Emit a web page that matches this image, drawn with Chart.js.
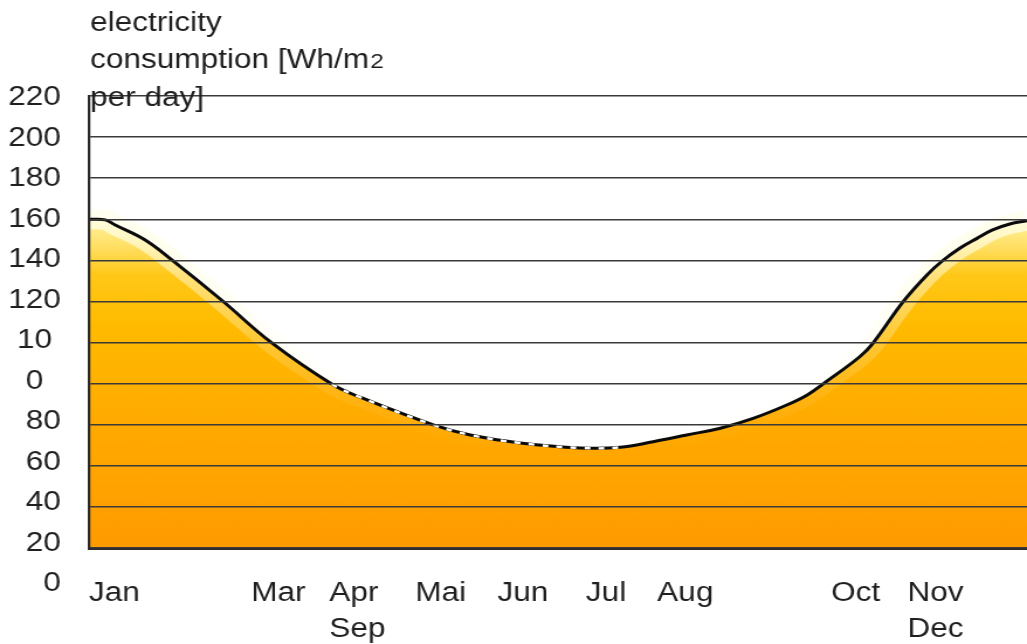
<!DOCTYPE html>
<html>
<head>
<meta charset="utf-8">
<script src="https://cdn.jsdelivr.net/npm/chart.js@4.4.1/dist/chart.umd.min.js"></script>
<style>
  html, body { margin: 0; padding: 0; background: #fff; overflow: hidden; }
  #chart { display: block; }
</style>
</head>
<body>
<canvas id="chart"></canvas>
<script>
// month axis (label start positions, in month units from the y axis)
const monthTicks = [0, 1.98, 2.93, 3.98, 4.98, 6.06, 6.93, 9.05, 9.98];
const monthLabels = ['Jan', 'Mar', ['Apr', 'Sep'], 'Mai', 'Jun', 'Jul', 'Aug', 'Oct', ['Nov', 'Dec']];

// consumption curve
const curveX = [0, 0.2, 0.32, 0.68, 1.01, 1.63, 2.23, 2.96, 3.3, 4.2, 4.65, 5.26, 5.99, 6.48, 6.88, 7.29, 7.7, 8.1, 8.51, 8.76, 8.95, 9.4, 9.56, 9.93, 10.22, 10.41, 10.62, 10.83, 11.02, 11.23, 11.44];
const curveY = [160, 159.7, 157.2, 150.0, 140.2, 120.2, 99.8, 79.8, 73.5, 59.9, 55.0, 51.1, 48.7, 49.0, 51.7, 55.0, 58.3, 63.1, 69.6, 74.5, 79.8, 93.1, 99.6, 119.9, 132.9, 139.8, 145.9, 150.7, 154.8, 157.7, 159.3];

// dashed stretch of the curve
const dashFrom = 2.96;
const dashTo = 6.48;

// grid lines and the (odd) tick labels as printed
const gridTicks = [0, 20, 40, 60, 80, 100, 120, 140, 160, 180, 200, 220];
const yLabelValues = [-20, 0, 20, 40, 60, 80, 100, 120, 140, 160, 180, 200, 220];
const yLabels = ['0', '20', '40', '60', '80', '0  ', '10 ', '120', '140', '160', '180', '200', '220'];

// the original picture is drawn wider than tall; render narrower and stretch
const STRETCH = 1.17;
const OUT_W = 1027, OUT_H = 644;
const W = Math.round(OUT_W / STRETCH);

const FONT = "'Liberation Sans', Arial, Helvetica, sans-serif";
const TEXT = '#1f1f1f';

const canvas = document.getElementById('chart');
canvas.width = W;
canvas.height = OUT_H;
canvas.style.width = OUT_W + 'px';
canvas.style.height = OUT_H + 'px';

const points = curveX.map((x, i) => ({ x: x, y: curveY[i] }));

function yGradient(ctx, stops) {
  const chart = ctx.chart;
  if (!chart.chartArea) return null;
  const y = chart.scales.y;
  const g = chart.ctx.createLinearGradient(0, y.getPixelForValue(160), 0, y.getPixelForValue(0));
  stops.forEach(s => g.addColorStop(s[0], s[1]));
  return g;
}

const titlePlugin = {
  id: 'axisTitle',
  afterDraw(chart) {
    const c = chart.ctx;
    const x0 = 90 / STRETCH;
    c.save();
    c.fillStyle = TEXT;
    c.textAlign = 'left';
    c.textBaseline = 'alphabetic';
    c.font = '27px ' + FONT;
    c.fillText('electricity', x0, 31);
    const line2 = 'consumption [Wh/m';
    c.fillText(line2, x0, 68);
    const w = c.measureText(line2).width;
    c.fillText('per day]', x0, 106);
    c.font = '21px ' + FONT;
    c.fillText('2', x0 + w + 1, 68);
    c.restore();
  }
};

const common = {
  data: points,
  yAxisID: 'y',
  xAxisID: 'x',
  tension: 0.4,
  pointRadius: 0
};

new Chart(canvas, {
  type: 'line',
  data: {
    datasets: [
      Object.assign({}, common, {
        // white dashes over the black line
        borderColor: 'rgba(0,0,0,0)',
        borderWidth: 2.4,
        borderDash: [5, 7],
        fill: false,
        segment: {
          borderColor: ctx => (ctx.p0.parsed.x >= dashFrom && ctx.p1.parsed.x <= dashTo) ? '#ffffff' : 'rgba(0,0,0,0)'
        }
      }),
      Object.assign({}, common, {
        borderColor: '#0a0a0a',
        borderWidth: 3,
        fill: false
      }),
      Object.assign({}, common, {
        // soft light rim under the curve
        borderWidth: 20,
        borderColor: ctx => yGradient(ctx, [
          [0, 'rgba(255,255,235,0.8)'],
          [0.12, 'rgba(255,255,230,0.55)'],
          [0.25, 'rgba(255,253,228,0.38)'],
          [0.4, 'rgba(255,252,228,0.2)'],
          [0.55, 'rgba(255,250,228,0.07)'],
          [0.7, 'rgba(255,250,228,0)'],
          [1, 'rgba(255,250,228,0)']
        ]),
        fill: false
      }),
      Object.assign({}, common, {
        borderWidth: 0,
        borderColor: 'rgba(0,0,0,0)',
        fill: 'origin',
        backgroundColor: ctx => yGradient(ctx, [
          [0, '#fff4a0'],
          [0.08, '#ffe066'],
          [0.17, '#ffc818'],
          [0.32, '#ffbb00'],
          [0.6, '#ffab00'],
          [1, '#ff9b00']
        ])
      })
    ]
  },
  options: {
    responsive: false,
    devicePixelRatio: 1,
    animation: false,
    layout: { padding: { top: 96, left: 0, right: 0, bottom: 0 } },
    plugins: {
      legend: { display: false },
      tooltip: { enabled: false }
    },
    scales: {
      x: {
        type: 'linear',
        min: 0,
        max: 11.44,
        afterBuildTicks: s => { s.ticks = monthTicks.map(v => ({ value: v })); },
        afterFit: s => { s.height = 96; },
        grid: { color: 'rgba(0,0,0,0)', drawTicks: false, z: 1 },
        border: { color: '#2a2a2a', width: 3, z: 1 },
        ticks: {
          autoSkip: false,
          maxRotation: 0,
          align: 'start',
          padding: 28,
          color: TEXT,
          font: { family: FONT, size: 27, lineHeight: 1.33 },
          callback: (v, i) => monthLabels[i]
        }
      },
      yl: {
        type: 'linear',
        position: 'left',
        weight: 10,
        min: -2.2,
        max: 221,
        afterBuildTicks: s => { s.ticks = yLabelValues.map(v => ({ value: v })); },
        afterFit: s => { s.width = 89 / STRETCH; },
        grid: { display: false, drawTicks: false },
        border: { display: false },
        ticks: {
          padding: 24,
          color: TEXT,
          font: { family: FONT, size: 27 },
          callback: (v, i) => yLabels[i]
        }
      },
      y: {
        type: 'linear',
        position: 'left',
        weight: 0,
        min: 0,
        max: 220,
        afterBuildTicks: s => { s.ticks = gridTicks.map(v => ({ value: v })); },
        afterFit: s => { s.width = 0; },
        grid: { color: '#3a3a3a', lineWidth: 1.5, drawTicks: false, z: 1 },
        border: { color: '#2a2a2a', width: 2.2, z: 1 },
        ticks: { display: false }
      }
    }
  },
  plugins: [titlePlugin]
});
</script>
</body>
</html>
